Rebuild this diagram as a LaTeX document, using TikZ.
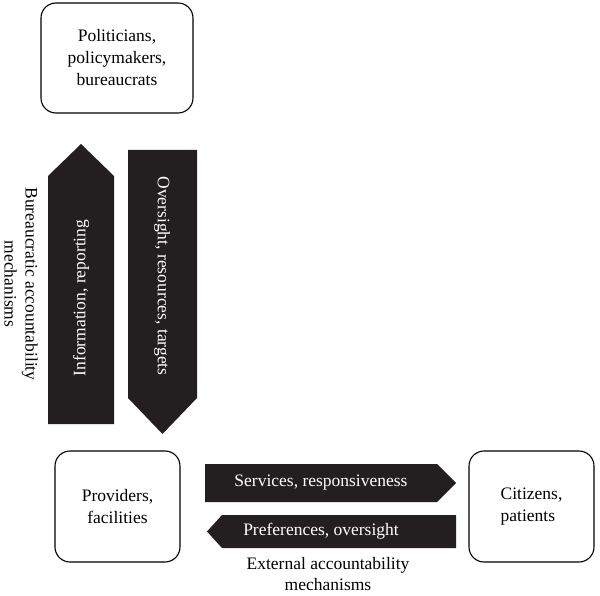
\documentclass[tikz,border=0pt]{standalone}
\usepackage{fontspec}
\setmainfont{Liberation Serif}
\definecolor{arrowblack}{HTML}{231F20}

\begin{document}
\begin{tikzpicture}[x=1pt,y=-1pt,
        box/.style={draw=black, line width=1.1pt, rounded corners=15pt, inner sep=0pt,
            align=center, font=\fontsize{17.5}{22}\selectfont},
        mechtext/.style={align=center, inner sep=1pt, font=\fontsize{17.5}{21}\selectfont},
        intext/.style={text=white, font=\fontsize{17.5}{22}\selectfont}]
        \useasboundingbox (0,0) rectangle (600,596);
        % the three actors
        \node[box, minimum width=152pt, minimum height=110pt] (pol) at (117,58) {Politicians,\\policymakers,\\bureaucrats};
        \node[box, minimum width=125pt, minimum height=111pt] (prov) at (117.5,506.5) {Providers,\\facilities};
        \node[box, minimum width=125pt, minimum height=111pt, align=left] (cit) at (531.5,506.5) {Citizens,\\patients};
        % block arrows
        \fill[arrowblack] (48,424) -- (48,176) -- (81,144) -- (114,176) -- (114,424) -- cycle;
        \fill[arrowblack] (128,150) -- (197,150) -- (197,398) -- (162.5,434) -- (128,398) -- cycle;
        \fill[arrowblack] (205,464) -- (437,464) -- (456,483) -- (437,502) -- (205,502) -- cycle;
        \fill[arrowblack] (456,515) -- (222,515) -- (207,531.5) -- (222,548) -- (456,548) -- cycle;
        \node[intext, rotate=90] (info) at (81,298) {Information, reporting};
        \node[intext, rotate=-90] (over) at (162,276) {Oversight, resources, targets};
        \node[intext] (serv) at (321,483) {Services, responsiveness};
        \node[intext] (pref) at (321,531) {Preferences, oversight};
        % mechanism labels
        \node[mechtext, rotate=-90] (bur) at (21,284) {Bureaucratic accountability\\mechanisms};
        \node[mechtext] (ext) at (328,574) {External accountability\\mechanisms};
    \end{tikzpicture}
\end{document}
